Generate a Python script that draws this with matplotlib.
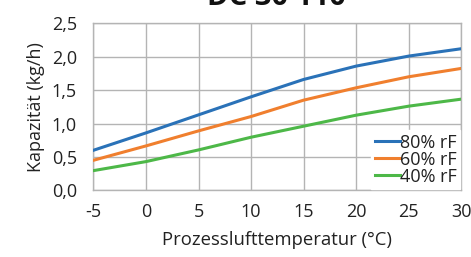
import matplotlib
matplotlib.use("Agg")
import matplotlib.pyplot as plt

# --- data ---
temperatur = [-5, 0, 5, 10, 15, 20, 25, 30]
rf80 = [0.60, 0.86, 1.13, 1.40, 1.66, 1.86, 2.01, 2.12]
rf60 = [0.45, 0.665, 0.89, 1.105, 1.35, 1.535, 1.70, 1.825]
rf40 = [0.295, 0.43, 0.605, 0.795, 0.96, 1.125, 1.26, 1.365]
labels = ["80% rF", "60% rF", "40% rF"]
colors = ["#2a72b8", "#f07f2e", "#4db848"]
yticks = [0.0, 0.5, 1.0, 1.5, 2.0, 2.5]

plt.rcParams['font.family'] = ['Open Sans', 'DejaVu Sans']

fig = plt.figure(figsize=(4.71, 2.57), dpi=100)
ax = fig.add_axes([0.1985, 0.2595, 0.7805, 0.6495])

for ys, lab, col in zip([rf80, rf60, rf40], labels, colors):
    ax.plot(temperatur, ys, color=col, lw=2.2, label=lab, zorder=3)

ax.set_xlim(-5, 30)
ax.set_ylim(0, 2.5)
ax.set_xticks(temperatur)
ax.set_xticklabels([str(t) for t in temperatur])
ax.set_yticks(yticks)
ax.set_yticklabels([f"{v:.1f}".replace(".", ",") for v in yticks])
ax.tick_params(length=0, labelsize=13, colors="#222222")
ax.tick_params(axis='y', pad=12)
ax.tick_params(axis='x', pad=9)
ax.grid(True, color="#b4b4b4", lw=1.0)
for s in ax.spines.values():
    s.set_color("#b4b4b4")
    s.set_linewidth(1.0)

ax.set_xlabel("Prozesslufttemperatur (°C)", fontsize=13.3, color="#222222", labelpad=7)
ax.set_ylabel("Kapazität (kg/h)", fontsize=13, color="#222222", labelpad=5)

leg = ax.legend(loc="lower right", fontsize=13, frameon=True, fancybox=False,
                handlelength=1.4, handletextpad=0.0, borderpad=0.2,
                labelspacing=-0.05, borderaxespad=0.05)
leg.get_frame().set_edgecolor("white")
leg.get_frame().set_facecolor("white")
leg.get_frame().set_alpha(1.0)
for t in leg.get_texts():
    t.set_color("#222222")

# title is cut off at the top edge in the reference
fig.text(0.587, 0.982, "DC 30 110", ha="center", va="baseline",
         fontsize=21, fontweight="bold", color="#111111")

fig.savefig("out.png", dpi=100)
